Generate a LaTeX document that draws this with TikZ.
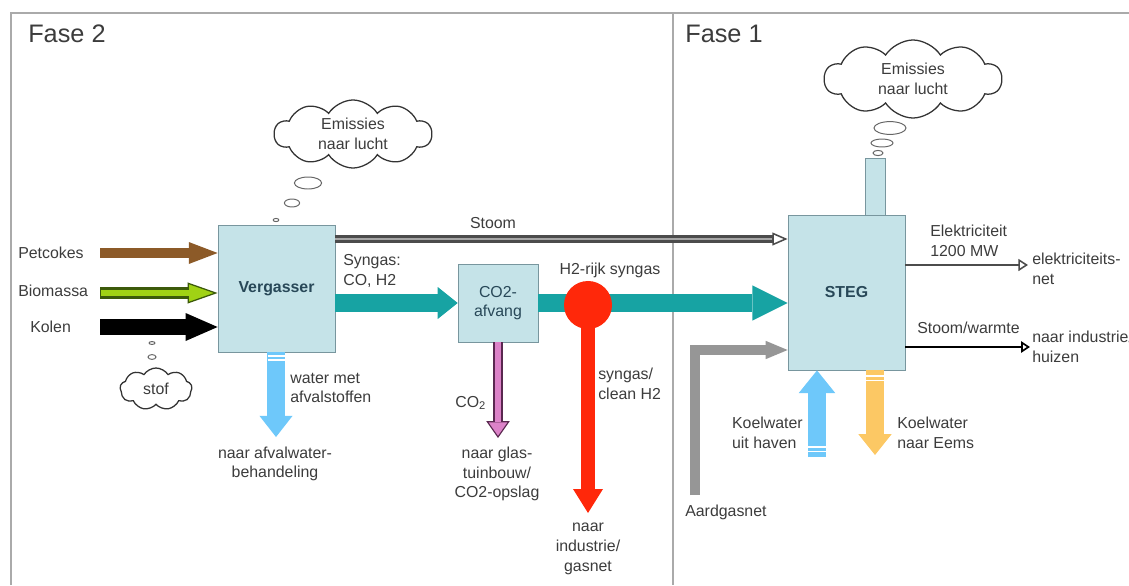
\documentclass[tikz,border=0pt]{standalone}
\usepackage{fontspec}
\setmainfont{Liberation Sans}
\usetikzlibrary{shapes.symbols,shapes.geometric,arrows.meta}

\definecolor{boxfill}{RGB}{197,227,232}
\definecolor{boxline}{RGB}{120,150,158}
\definecolor{tekst}{RGB}{60,60,60}
\definecolor{boxtekst}{RGB}{40,72,88}
\definecolor{frame}{RGB}{170,170,170}
\definecolor{teal}{RGB}{23,163,163}
\definecolor{bruin}{RGB}{140,90,40}
\definecolor{groen}{RGB}{160,210,20}
\definecolor{donkergroen}{RGB}{60,90,10}
\definecolor{waterblauw}{RGB}{110,200,250}
\definecolor{oranje}{RGB}{252,200,100}
\definecolor{rood}{RGB}{255,40,10}
\definecolor{roze}{RGB}{220,130,200}
\definecolor{donkerroze}{RGB}{90,40,80}
\definecolor{aardgas}{RGB}{150,150,150}

\newcommand\lbltxt{\fontsize{11.3}{14}\selectfont}

\tikzset{
  unit/.style={draw=boxline, fill=boxfill, inner sep=0pt, text=boxtekst, font=\lbltxt\bfseries},
  lbl/.style={inner sep=0pt, text=tekst, font=\lbltxt, align=left},
  wolk/.style={cloud, cloud puffs=10, cloud puff arc=115, cloud ignores aspect,
    draw=black!80, line width=0.9pt, inner sep=0pt, text=tekst, font=\lbltxt, align=center},
  bubbel/.style={ellipse, draw=black!60, line width=0.7pt, inner sep=0pt},
  stripe/.style={white, line width=0.9pt}
}

\begin{document}
\begin{tikzpicture}[x=0.025cm, y=-0.025cm]
\useasboundingbox (0,0) rectangle (1129,585);

% kader en fasen
\draw[frame, line width=1.5pt] (11,585) -- (11,13) -- (1129,13);
\draw[frame, line width=1.5pt] (673,13) -- (673,585);
\node[lbl, font=\fontsize{18}{20}\selectfont, anchor=west] (fase2) at (28,34) {Fase 2};
\node[lbl, font=\fontsize{18}{20}\selectfont, anchor=west] (fase1) at (685,34) {Fase 1};

% installaties
\node[unit, minimum width=2.93cm, minimum height=3.18cm] (verg) at (276.5,288.5) {Vergasser};
\node[unit, minimum width=2cm, minimum height=1.95cm, font=\lbltxt, align=center] (afv) at (498,303) {CO2-\\afvang};
\node[unit, minimum width=2.93cm, minimum height=3.88cm] (steg) at (846.5,292.5) {STEG};
\node[unit, minimum width=0.5cm, minimum height=1.43cm] (schoorsteen) at (875,186.5) {};

% wolken
\node[wolk, minimum width=3.93cm, minimum height=1.7cm] (wolk2) at (353,134) {Emissies\\naar lucht};
\node[bubbel, minimum width=0.68cm, minimum height=0.3cm] (b21) at (308,183) {};
\node[bubbel, minimum width=0.38cm, minimum height=0.2cm] (b22) at (292,203) {};
\node[bubbel, minimum width=0.14cm, minimum height=0.08cm] (b23) at (276,220) {};

\node[wolk, minimum width=4.43cm, minimum height=1.95cm] (wolk1) at (913,79) {Emissies\\naar lucht};
\node[bubbel, minimum width=0.8cm, minimum height=0.32cm] (b11) at (890,128) {};
\node[bubbel, minimum width=0.55cm, minimum height=0.2cm] (b12) at (882,143) {};
\node[bubbel, minimum width=0.25cm, minimum height=0.13cm] (b13) at (878,153) {};

\node[wolk, cloud puffs=9, minimum width=1.8cm, minimum height=1.05cm] (stof) at (156,389) {stof};
\node[bubbel, minimum width=0.2cm, minimum height=0.12cm] (s1) at (152,357) {};
\node[bubbel, minimum width=0.15cm, minimum height=0.07cm] (s2) at (152,343) {};

% grondstoffen
\node[lbl, anchor=west] (lpet) at (18,253) {Petcokes};
\node[lbl, anchor=west] (lbio) at (18,291) {Biomassa};
\node[lbl, anchor=west] (lkol) at (30,327) {Kolen};
\coordinate (pet) at (100,253);
\coordinate (bio) at (100,293);
\coordinate (kol) at (100,327);
\draw[bruin, line width=0.25cm, -{Triangle[width=0.55cm, length=0.72cm, line width=0pt]}] (pet) -- (pet -| verg.west);
\draw[donkergroen, line width=0.3cm, -{Triangle[width=0.52cm, length=0.75cm, line width=0.9pt, fill=groen]}] (bio) -- (bio -| verg.west);
\draw[groen, line width=0.15cm, shorten <=1pt, shorten >=0.72cm] (bio) -- (bio -| verg.west);
\draw[black, line width=0.42cm, -{Triangle[width=0.7cm, length=0.8cm, line width=0pt]}] (kol) -- (kol -| verg.west);

% water uit vergasser
\coordinate (wout) at (276,437);
\draw[waterblauw, line width=0.45cm, -{Triangle[width=0.83cm, length=0.53cm, line width=0pt]}] (verg.south -| wout) -- (wout);
\draw[stripe] (267.5,356) -- (284.5,356);
\draw[stripe] (267.5,360) -- (284.5,360);
\node[lbl, anchor=west] (lwater) at (290,388) {water met\\afvalstoffen};
\node[lbl, align=center] (lafval) at (275,464) {naar afvalwater-\\behandeling};

% stoom naar STEG
\draw[black!70, line width=0.18cm, -{Triangle[open, width=0.32cm, length=0.38cm, line width=1.1pt]}] (verg.east |- 0,239) -- (steg.west |- 0,239);
\draw[black!35, line width=0.07cm, shorten >=0.4cm] (verg.east |- 0,239) -- (steg.west |- 0,239);
\node[lbl] (lstoom) at (493,223) {Stoom};

% syngas
\draw[teal, line width=0.43cm, -{Triangle[width=0.8cm, length=0.5cm, line width=0pt]}] (verg.east |- afv.west) -- (afv.west);
\node[lbl, anchor=west] (lsyn) at (343,271) {Syngas:\\CO, H2};
\draw[teal, line width=0.43cm, -{Triangle[width=0.88cm, length=0.88cm, line width=0pt]}] (afv.east) -- (steg.west |- afv.east);
\node[circle, fill=rood, minimum size=1.2cm, inner sep=0pt] (h2) at (588,305) {};
\node[lbl] (lh2) at (610,270) {H2-rijk syngas};

% CO2 afvang
\draw[donkerroze, line width=0.27cm, -{Triangle[width=0.58cm, length=0.42cm, line width=0.8pt, fill=roze]}] (afv.south) -- (afv.south |- 0,438);
\draw[roze, line width=0.13cm, shorten >=0.4cm] (afv.south) -- (afv.south |- 0,438);
\node[lbl, anchor=west] (lco2) at (455,403) {CO\textsubscript{2}};
\node[lbl, align=center] (lglas) at (497,474) {naar glas-\\tuinbouw/\\CO2-opslag};

% syngas naar industrie
\draw[rood, line width=0.33cm, -{Triangle[width=0.75cm, length=0.6cm, line width=0pt]}] (h2.center) -- (h2.center |- 0,513);
\node[lbl, anchor=west] (lclean) at (598,384) {syngas/\\clean H2};
\node[lbl, align=center] (lind) at (588,549) {naar\\industrie/\\gasnet};

% aardgas
\coordinate (aard) at (695,495);
\draw[aardgas, line width=0.25cm, -{Triangle[width=0.46cm, length=0.55cm, line width=0pt]}] (aard) |- (steg.west |- 0,350);
\node[lbl, anchor=west] (laard) at (685,512) {Aardgasnet};

% koelwater
\coordinate (kin) at (817,457);
\coordinate (kout) at (875,455);
\draw[waterblauw, line width=0.45cm, -{Triangle[width=0.92cm, length=0.57cm, line width=0pt]}] (kin) -- (kin |- steg.south);
\draw[stripe] (808,447) -- (826,447);
\draw[stripe] (808,451.5) -- (826,451.5);
\draw[oranje, line width=0.45cm, -{Triangle[width=0.83cm, length=0.52cm, line width=0pt]}] (kout |- steg.south) -- (kout);
\draw[stripe] (866,376) -- (884,376);
\draw[stripe] (866,380.5) -- (884,380.5);
\node[lbl, anchor=east] (lkin) at (803,433) {Koelwater\\uit haven};
\node[lbl, anchor=west] (lkout) at (897,433) {Koelwater\\naar Eems};

% uitgaande stromen
\draw[black!70, line width=1.1pt, -{Triangle[open, width=0.3cm, length=0.24cm]}] (steg.east |- 0,265) -- (1028,265);
\node[lbl, anchor=west] (lelek) at (930,241) {Elektriciteit\\1200 MW};
\node[lbl, anchor=west] (lnet) at (1032,269) {elektriciteits-\\net};
\draw[black, line width=1.8pt, -{Triangle[open, width=0.28cm, length=0.22cm, line width=1.2pt]}] (steg.east |- 0,347) -- (1030,347);
\node[lbl, anchor=west] (lwarmte) at (917,328) {Stoom/warmte};
\node[lbl, anchor=west] (lhuis) at (1032,347) {naar industrie/\\huizen};
\end{tikzpicture}
\end{document}
